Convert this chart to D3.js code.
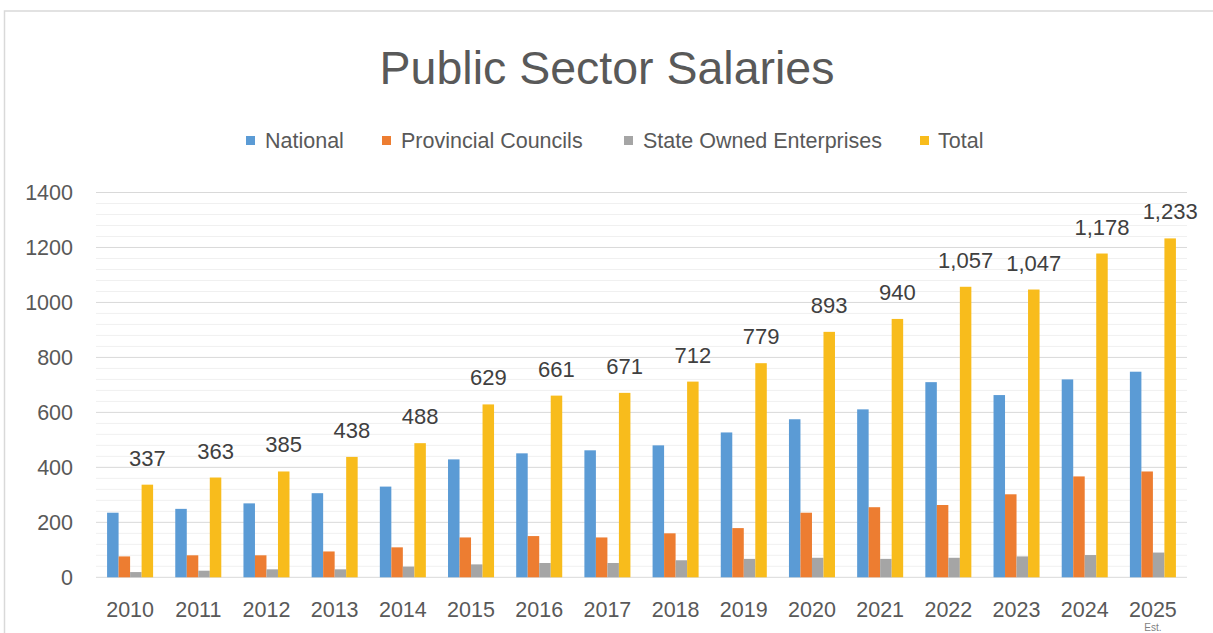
<!DOCTYPE html>
<html>
<head>
<meta charset="utf-8">
<script src="https://cdn.jsdelivr.net/npm/d3@7"></script>
<style>
  body { margin: 0; background: #fff; }
  text { font-family: "Liberation Sans", Arial, sans-serif; }
</style>
</head>
<body>
<div id="chart"></div>
<script>
const years = ["2010", "2011", "2012", "2013", "2014", "2015", "2016", "2017",
  "2018", "2019", "2020", "2021", "2022", "2023", "2024", "2025"]
const national = [235, 249, 269, 306, 330, 429, 451, 462, 480, 527, 575, 611, 710, 663, 720, 748]
const provincial = [76, 80, 80, 94, 109, 145, 150, 145, 160, 179, 235, 255, 263, 302, 367, 385]
const soe = [19, 24, 29, 29, 39, 47, 52, 52, 62, 67, 71, 67, 71, 76, 81, 90]
const total = [337, 363, 385, 438, 488, 629, 661, 671, 712, 779, 893, 940, 1057, 1047, 1178, 1233]
const seriesNames = ["National", "Provincial Councils", "State Owned Enterprises", "Total"]
const yTicks = [0, 200, 400, 600, 800, 1000, 1200, 1400]

const COLORS = ["#5B9BD5", "#ED7D31", "#A5A5A5", "#F8BC1C"]
const W = 1213, H = 633
const PLOT = {LEFT: 96, RIGHT: 1187, TOP: 192.5, BOTTOM: 577.3}

const svg = d3.select("#chart").append("svg")
  .attr("width", W)
  .attr("height", H)

// chart frame
svg.append("rect")
  .attr("x", 4.5).attr("y", 11)
  .attr("width", W + 20).attr("height", H + 20)
  .attr("fill", "none")
  .attr("stroke", "#d9d9d9")
  .attr("stroke-width", 1.5)

svg.append("text")
  .attr("x", 607).attr("y", 84)
  .attr("text-anchor", "middle")
  .attr("font-size", 46.5)
  .attr("fill", "#595959")
  .text("Public Sector Salaries")

const y = d3.scaleLinear().domain([0, 1400]).range([PLOT.BOTTOM, PLOT.TOP])

const pad = 0.325
const x0 = d3.scaleBand().domain(years).range([PLOT.LEFT, PLOT.RIGHT])
  .paddingInner(pad).paddingOuter(pad / 2)
const x1 = d3.scaleBand().domain(seriesNames).range([0, x0.bandwidth()])

// gridlines: minor every 40, major every 200
const minor = d3.range(40, 1400, 40).filter(v => v % 200 !== 0)
svg.append("g").selectAll("line").data(minor).join("line")
  .attr("x1", PLOT.LEFT).attr("x2", PLOT.RIGHT)
  .attr("y1", d => y(d)).attr("y2", d => y(d))
  .attr("stroke", "#f0f0f0").attr("stroke-width", 1)

svg.append("g").selectAll("line").data(yTicks).join("line")
  .attr("x1", PLOT.LEFT).attr("x2", PLOT.RIGHT)
  .attr("y1", d => y(d)).attr("y2", d => y(d))
  .attr("stroke", "#d9d9d9").attr("stroke-width", 1)

// y axis labels
const yAxis = svg.append("g")
  .attr("transform", `translate(${PLOT.LEFT}, 0)`)
  .call(d3.axisLeft(y).tickValues(yTicks).tickSize(0).tickPadding(23).tickFormat(d3.format("d")))
yAxis.select(".domain").remove()
yAxis.selectAll("text").attr("font-size", 21.5).attr("fill", "#595959")
  .style("font-family", "'Liberation Sans', Arial, sans-serif")

// x axis labels
const xAxis = svg.append("g")
  .attr("transform", `translate(0, ${PLOT.BOTTOM})`)
  .call(d3.axisBottom(x0).tickSize(0).tickPadding(24))
xAxis.select(".domain").remove()
xAxis.selectAll("text").attr("font-size", 21.5).attr("fill", "#595959")
  .style("font-family", "'Liberation Sans', Arial, sans-serif")

svg.append("text")
  .attr("x", x0("2025") + x0.bandwidth() / 2).attr("y", 631)
  .attr("text-anchor", "middle")
  .attr("font-size", 10)
  .attr("fill", "#7f7f7f")
  .text("Est.")

// bars
const rows = years.map((yr, i) => ({
  year: yr,
  values: [national[i], provincial[i], soe[i], total[i]]
}))

const groups = svg.append("g").selectAll("g").data(rows).join("g")
  .attr("transform", d => `translate(${x0(d.year)}, 0)`)

groups.selectAll("rect")
  .data(d => d.values.map((v, j) => ({name: seriesNames[j], value: v, j})))
  .join("rect")
    .attr("x", d => x1(d.name))
    .attr("y", d => y(d.value))
    .attr("width", x1.bandwidth())
    .attr("height", d => PLOT.BOTTOM - y(d.value))
    .attr("fill", d => COLORS[d.j])

// data labels on Total
svg.append("g").selectAll("text").data(rows).join("text")
  .attr("x", d => x0(d.year) + x1("Total") + x1.bandwidth() / 2)
  .attr("y", d => y(d.values[3]) - 19)
  .attr("text-anchor", "middle")
  .attr("font-size", 22)
  .attr("fill", "#404040")
  .text(d => d3.format(",")(d.values[3]))

// legend
const legendX = [246, 382, 624, 920]
const legend = svg.append("g").selectAll("g").data(seriesNames).join("g")
  .attr("transform", (d, i) => `translate(${legendX[i]}, 136)`)
legend.append("rect")
  .attr("width", 9).attr("height", 9)
  .attr("fill", (d, i) => COLORS[i])
legend.append("text")
  .attr("x", (d, i) => i === 3 ? 18 : 19)
  .attr("y", 12)
  .attr("font-size", 21.5)
  .attr("fill", "#595959")
  .text(d => d)
</script>
</body>
</html>
